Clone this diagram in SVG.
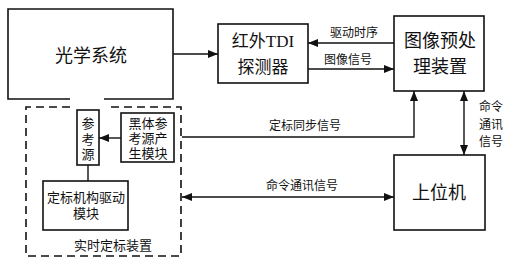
<svg xmlns="http://www.w3.org/2000/svg" width="525" height="266" viewBox="0 0 525 266">
<style>
.box{fill:none;stroke:#111;stroke-width:1.6}
.dash{fill:none;stroke:#111;stroke-width:1.6;stroke-dasharray:8,5}
.ln{fill:none;stroke:#111;stroke-width:1.4}
text{font-family:"Liberation Serif","Noto Sans CJK SC",serif;fill:#111;text-anchor:middle;dominant-baseline:central}
.big{font-size:18px}
.mid{font-size:17px}
.sm{font-size:12px}
.s13{font-size:13px}
</style>
<defs>
<marker id="ah" viewBox="0 0 10 8" refX="10" refY="4" markerWidth="10" markerHeight="8" markerUnits="userSpaceOnUse" orient="auto-start-reverse">
<path d="M0,0 L10,4 L0,8 Z" fill="#111"/>
</marker>
</defs>
<g id="optical">
<path class="box" d="M70,99 L8,99 L8,9 L173,9 L173,99 L104,99"/>
<text class="big" x="91" y="56">光学系统</text>
</g>
<g id="tdi">
<rect class="box" x="218" y="24" width="90" height="59"/>
<text class="mid" x="263" y="41">红外TDI</text>
<text class="mid" x="263" y="67">探测器</text>
</g>
<g id="preproc">
<rect class="box" x="394" y="16" width="90" height="75"/>
<text class="big" x="440" y="41">图像预处</text>
<text class="big" x="440" y="67">理装置</text>
</g>
<g id="host">
<rect class="box" x="394" y="155" width="91" height="75"/>
<text class="big" x="439" y="193">上位机</text>
</g>
<g id="calib">
<path class="dash" d="M70,107 L26,107 L26,256 L181,256 L181,107 L106,107"/>
<text class="s13" x="113" y="245">实时定标装置</text>
</g>
<g id="refsrc">
<rect class="box" x="77" y="110" width="22" height="55"/>
<text class="s13" x="88" y="123">参</text>
<text class="s13" x="88" y="139">考</text>
<text class="s13" x="88" y="154">源</text>
</g>
<g id="blackbody">
<rect class="box" x="121" y="113" width="53" height="49"/>
<text class="s13" x="148" y="123">黑体参</text>
<text class="s13" x="148" y="138">考源产</text>
<text class="s13" x="148" y="153">生模块</text>
</g>
<g id="drive">
<rect class="box" x="43" y="181" width="85" height="49"/>
<text class="s13" x="86" y="197">定标机构驱动</text>
<text class="s13" x="86" y="213">模块</text>
</g>
<g id="connectors">
<line class="ln" x1="173" y1="54" x2="218" y2="54" marker-end="url(#ah)"/>
<line class="ln" x1="394" y1="43" x2="308" y2="43" marker-end="url(#ah)"/>
<line class="ln" x1="308" y1="69" x2="394" y2="69" marker-end="url(#ah)"/>
<polyline class="ln" points="182,137 414,137 414,91" marker-end="url(#ah)"/>
<line class="ln" x1="464" y1="91" x2="464" y2="155" marker-start="url(#ah)" marker-end="url(#ah)"/>
<line class="ln" x1="182" y1="197" x2="394" y2="197" marker-start="url(#ah)" marker-end="url(#ah)"/>
<line class="ln" x1="121" y1="138" x2="99" y2="138" marker-end="url(#ah)"/>
<line class="ln" x1="88" y1="165" x2="88" y2="181"/>
<text class="sm" x="354" y="33">驱动时序</text>
<text class="sm" x="348" y="60">图像信号</text>
<text class="sm" x="305" y="126">定标同步信号</text>
<text class="sm" x="302" y="186">命令通讯信号</text>
<text class="sm" x="491" y="107">命令</text>
<text class="sm" x="491" y="125">通讯</text>
<text class="sm" x="491" y="142">信号</text>
</g>
</svg>
